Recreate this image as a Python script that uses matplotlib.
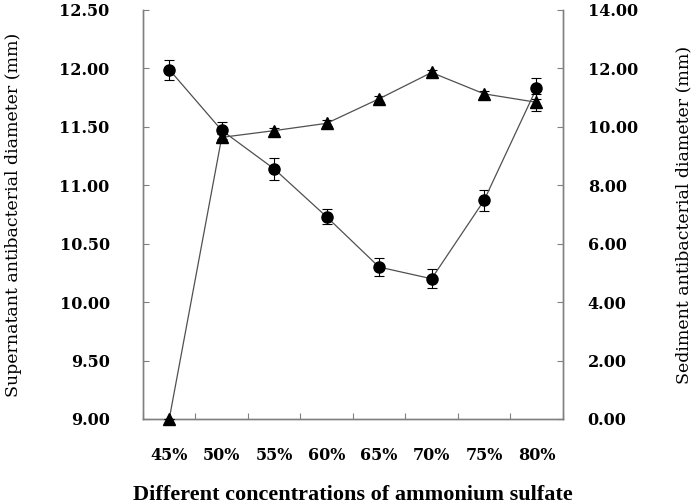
import matplotlib
matplotlib.use("Agg")
import matplotlib.pyplot as plt
import numpy as np

# concentraciones de sulfato de amonio
conc = ['45%', '50%', '55%', '60%', '65%', '70%', '75%', '80%']

# sobrenadante (eje izquierdo)
sobrenadante = [11.99, 11.47, 11.14, 10.73, 10.30, 10.20, 10.87, 11.83]
err_sobre = [0.086, 0.07, 0.094, 0.064, 0.08, 0.08, 0.09, 0.09]

# sedimento (eje derecho)
sedimento = [0.0, 9.64, 9.87, 10.12, 10.96, 11.86, 11.13, 10.84]
err_sedi = [0.0, 0.1, 0.1, 0.1, 0.1, 0.1, 0.1, 0.3]

x = np.arange(len(conc))
gris = '#808080'
linea = '#505050'

fig = plt.figure(figsize=(7, 5.04), dpi=100)
ax = fig.add_axes([0.2043, 0.1687, 0.5996, 0.8115])
ax2 = ax.twinx()

ax.errorbar(x, sobrenadante, yerr=err_sobre, color=linea, lw=0.9,
            marker='o', ms=8, mfc='black', mec='black',
            ecolor='black', elinewidth=0.8, capsize=3.5, capthick=0.8,
            clip_on=False, zorder=3)
ax2.errorbar(x, sedimento, yerr=err_sedi, color=linea, lw=0.9,
             marker='^', ms=8, mfc='black', mec='black',
             ecolor='black', elinewidth=0.8, capsize=3.5, capthick=0.8,
             clip_on=False, zorder=3)

ax.set_xlim(-0.5, len(conc) - 0.5)
ax.set_ylim(9, 12.5)
ax2.set_ylim(0, 14)
ax.set_yticks(np.arange(9, 12.51, 0.5))
ax2.set_yticks(np.arange(0, 14.1, 2))
ax.set_yticklabels([f'{v:.2f}' for v in np.arange(9, 12.51, 0.5)])
ax2.set_yticklabels([f'{v:.2f}' for v in np.arange(0, 14.1, 2)])

# marcas en los bordes de cada categoria, etiquetas en el centro
ax.set_xticks(np.arange(-0.5, len(conc), 1))
ax.set_xticklabels([])
ax.set_xticks(x, minor=True)
ax.set_xticklabels(conc, minor=True)

for lab in ax.get_yticklabels() + ax2.get_yticklabels() + ax.get_xticklabels(minor=True):
    lab.set_fontfamily('DejaVu Serif')
    lab.set_fontweight('bold')
    lab.set_fontsize(11.5)

ax.tick_params(axis='y', direction='in', length=4, color=gris, pad=24)
ax2.tick_params(axis='y', direction='in', length=4, color=gris, pad=18)
ax.tick_params(axis='x', which='major', direction='in', length=4, color=gris)
ax.tick_params(axis='x', which='minor', length=0, pad=20)

for a in (ax, ax2):
    a.spines['top'].set_visible(False)
    for s in ('left', 'right', 'bottom'):
        a.spines[s].set_color(gris)
        a.spines[s].set_linewidth(1.0)

ax.set_ylabel('Supernatant antibacterial diameter (mm)',
              family='DejaVu Serif', size=12.5, labelpad=27)
ax2.set_ylabel('Sediment antibacterial diameter (mm)',
               family='DejaVu Serif', size=12.5, labelpad=27, rotation=90)
ax.set_xlabel('Different concentrations of ammonium sulfate',
              family='Liberation Serif', weight='bold', size=16, labelpad=15)

fig.savefig('out.png', dpi=100)
